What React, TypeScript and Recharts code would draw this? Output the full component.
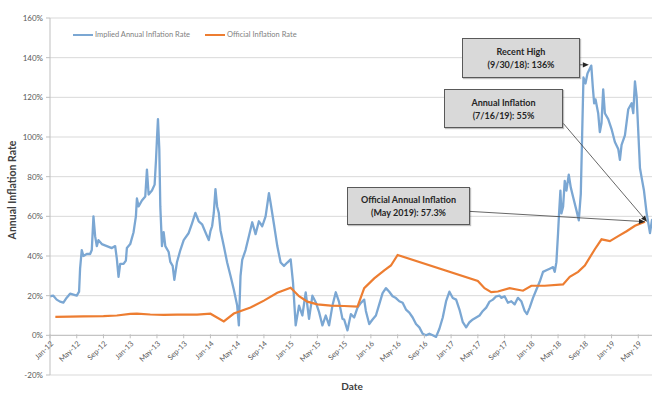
import React from "react";
import {
  LineChart,
  Line,
  XAxis,
  YAxis,
  CartesianGrid,
  ReferenceLine,
  Legend,
} from "recharts";

// months since Jan-2012 -> implied annual inflation (%)
const impliedRate: [number, number][] = [
  [0, 19.7], [0.5, 20], [1, 18], [1.5, 17], [2, 16.5], [2.5, 19], [3, 21], [3.5, 20.5],
  [4, 20], [4.35, 22], [4.5, 33.6], [4.75, 43], [5, 40], [5.5, 41], [6, 41], [6.25, 43],
  [6.5, 60], [6.75, 50], [7, 45], [7.25, 48], [7.75, 46], [8.5, 45], [9.25, 44], [9.75, 45],
  [10, 38.5], [10.25, 29.5], [10.5, 36], [11, 36], [11.35, 37.7], [11.5, 44], [12, 46],
  [12.5, 52], [12.85, 60], [13, 69], [13.25, 65], [13.75, 68], [14.25, 70], [14.5, 83.6],
  [14.75, 71], [15.25, 73], [15.65, 76], [15.85, 88], [16, 99], [16.15, 109], [16.35, 94],
  [16.5, 65], [16.75, 45], [17, 52], [17.25, 45], [17.75, 42], [18, 37], [18.35, 35],
  [18.6, 28], [19, 37], [19.5, 43], [20, 48], [20.75, 51.6], [21.25, 56.5], [21.75, 61.7],
  [22.25, 57.5], [22.75, 56], [23.25, 52], [23.75, 48], [24, 52.5], [24.25, 55], [24.5, 61.7],
  [24.75, 73.7], [25, 65], [25.25, 61.7], [25.5, 53], [26, 45], [26.5, 36.7], [27, 30],
  [27.5, 23], [28, 15], [28.25, 5], [28.5, 30], [28.75, 38], [29.25, 43], [29.75, 50],
  [30.25, 57], [30.75, 51], [31.25, 57.5], [31.75, 55], [32.25, 60], [32.75, 71.7], [33, 66.7],
  [33.5, 56], [34, 45], [34.5, 36.7], [35, 35], [35.5, 36.7], [36, 38.3], [36.35, 26.7],
  [36.75, 5], [37.25, 15], [37.75, 10], [38.25, 21.7], [38.75, 8.3], [39.25, 20], [39.75, 16.7],
  [40.25, 11.7], [40.75, 5], [41.25, 10], [41.75, 5], [42.25, 15], [42.75, 21.7], [43.25, 16.7],
  [43.75, 8.3], [44, 8], [44.5, 2.5], [45, 10.7], [45.5, 9], [46, 14], [46.5, 16.4], [47, 18],
  [47.25, 12.3], [47.75, 5.7], [48.25, 8], [48.75, 10], [49.25, 15.6], [49.75, 21.3],
  [50.25, 23.8], [50.75, 22], [51.25, 19.7], [51.75, 18.8], [52.25, 17.2], [52.75, 16.4],
  [53.25, 13], [53.75, 11.5], [54.25, 9], [54.75, 5.7], [55.25, 4], [55.75, 0.8], [56.25, 0],
  [56.75, 0.8], [57.25, 0], [57.75, -0.8], [58.25, 3.3], [58.75, 9], [59.25, 17.2], [59.75, 22],
  [60.25, 18.8], [60.75, 18], [61.25, 13], [61.75, 6.6], [62.25, 4], [62.75, 6.6], [63.25, 8],
  [63.75, 9], [64.25, 10], [64.75, 12.3], [65.25, 14], [65.75, 17], [66.25, 18], [66.75, 19.7],
  [67.25, 20], [67.5, 18.9], [68, 19.7], [68.5, 16.4], [69, 17.2], [69.5, 15.6], [70, 18.9],
  [70.5, 17.2], [71, 12.3], [71.35, 10.7], [71.75, 14], [72.25, 18.9], [72.75, 23], [73.25, 27],
  [73.75, 32], [74.25, 32.8], [74.75, 33.6], [75.25, 34.4], [75.5, 32], [75.75, 36.9], [76, 51.6],
  [76.15, 61.5], [76.35, 73], [76.5, 61.5], [76.75, 64.8], [77, 77.9], [77.25, 73], [77.6, 81],
  [77.9, 74.6], [78.25, 69.7], [78.75, 63], [79.1, 58], [79.4, 71.3], [79.6, 100.8], [79.8, 130],
  [80.1, 127], [80.4, 132], [80.97, 136], [81.2, 125], [81.4, 117], [81.6, 119], [82, 112],
  [82.25, 102.5], [82.5, 107], [82.75, 124], [83, 112], [83.5, 109], [84, 104], [84.5, 97.5],
  [85, 94], [85.25, 88.5], [85.5, 96], [86, 100.8], [86.5, 114], [87, 117], [87.25, 112],
  [87.5, 128], [87.75, 120.5], [88, 102.5], [88.25, 84.4], [88.5, 79.5], [88.85, 73],
  [89.25, 61.5], [89.5, 56.6], [89.75, 51.6], [90.05, 58.2], [90.5, 55],
];

// months since Jan-2012 -> official annual inflation (%)
const officialRate: [number, number][] = [
  [0.8, 9.3], [3, 9.4], [5, 9.6], [8, 9.7], [10, 10], [12, 10.8], [13, 10.9], [15, 10.5],
  [17, 10.3], [19, 10.4], [22, 10.4], [24, 10.9], [26, 7], [27.5, 11], [30, 14], [32, 17.5],
  [34, 21.5], [36, 24], [37.25, 19.7], [38.5, 17], [40, 15.6], [42, 15], [44, 14.8], [46, 14.5],
  [47, 23.8], [48.5, 28.7], [50, 32.8], [51, 35.2], [52, 40.5], [64, 27.4], [65, 23.8], [66, 21.8],
  [67, 22.1], [68.75, 23.8], [70.75, 22.5], [72, 25], [74, 25], [76.75, 25.7], [77.75, 29.5],
  [79, 32], [80, 35.2], [81.5, 43.4], [82.5, 48.4], [83.75, 47.5], [85, 50], [86.25, 52.5],
  [87.5, 55.2], [89, 57.3],
];

const monthTicks = [0, 4, 8, 12, 16, 20, 24, 28, 32, 36, 40, 44, 48, 52, 56, 60, 64, 68, 72, 76, 80, 84, 88];
const tickLabels = [
  "Jan-12", "May-12", "Sep-12", "Jan-13", "May-13", "Sep-13", "Jan-14", "May-14",
  "Sep-14", "Jan-15", "May-15", "Sep-15", "Jan-16", "May-16", "Sep-16", "Jan-17",
  "May-17", "Sep-17", "Jan-18", "May-18", "Sep-18", "Jan-19", "May-19",
];
const yTicks = [-20, 0, 20, 40, 60, 80, 100, 120, 140, 160];

const seriesNames = ["Implied Annual Inflation Rate", "Official Inflation Rate"];
const colors = ["#7ba7d3", "#ed7d31"];

// callouts: text lines, arrow start (month, %) and arrow tip (month, %)
const callouts = [
  { lines: ["Recent High", "(9/30/18): 136%"], from: [79.3, 136.4], to: [80.6, 136.4] },
  { lines: ["Annual Inflation", "(7/16/19): 55%"], from: [76.8, 106.8], to: [89.3, 57.3] },
  { lines: ["Official Annual Inflation", "(May 2019): 57.3%"], from: [62.8, 62.5], to: [89.0, 57.3] },
];

const impliedData = impliedRate.map(([m, v]) => ({ m, v }));
const officialData = officialRate.map(([m, v]) => ({ m, v }));

const FONT = "Lato, 'Open Sans', sans-serif";

const DateTick = (props: any) => {
  const { x, y, payload } = props;
  const idx = monthTicks.indexOf(payload.value);
  const zeroY = y - 40.7;
  const tx = x + 2;
  const ty = zeroY + 8;
  return (
    <g>
      <line x1={x} x2={x} y1={zeroY} y2={zeroY + 4} stroke="#bfbfbf" />
      <text
        x={tx}
        y={ty}
        textAnchor="end"
        dominantBaseline="central"
        transform={`rotate(-45 ${tx} ${ty})`}
        fontSize={7.5}
        fill="#595959"
        fontFamily={FONT}
      >
        {tickLabels[idx]}
      </text>
    </g>
  );
};

const Arrow = (props: any) => {
  const { x1, y1, x2, y2 } = props;
  const a = Math.atan2(y2 - y1, x2 - x1);
  const L = 6;
  const W = 2.6;
  const bx = x2 - L * Math.cos(a);
  const by = y2 - L * Math.sin(a);
  const px = -Math.sin(a) * W;
  const py = Math.cos(a) * W;
  return (
    <g>
      <line x1={x1} y1={y1} x2={bx} y2={by} stroke="#404040" strokeWidth={0.8} />
      <polygon
        points={`${x2},${y2} ${bx + px},${by + py} ${bx - px},${by - py}`}
        fill="#262626"
      />
    </g>
  );
};

const LegendContent = () => (
  <div style={{ display: "flex", alignItems: "center", fontSize: 7.5, color: "#7f7f7f", fontFamily: FONT }}>
    {seriesNames.map((n, i) => (
      <div key={n} style={{ display: "flex", alignItems: "center", marginRight: 15 }}>
        <span style={{ display: "inline-block", width: 20, height: 2, background: colors[i], marginRight: 2 }} />
        <span>{n}</span>
      </div>
    ))}
  </div>
);

const boxPos = [
  { left: 462, top: 38, width: 118, height: 40 },
  { left: 444, top: 89, width: 119, height: 39 },
  { left: 347, top: 187, width: 123, height: 38 },
];

export default function App() {
  return (
    <div
      style={{
        position: "absolute",
        left: 0,
        top: 0,
        width: 652,
        height: 393,
        overflow: "hidden",
        background: "#fff",
        fontFamily: FONT,
      }}
    >
      <LineChart width={660} height={393} margin={{ top: 9, right: 5, left: 0, bottom: 0 }}>
        <CartesianGrid vertical={false} stroke="#d9d9d9" />
        <XAxis
          dataKey="m"
          type="number"
          domain={[0, 90.5]}
          ticks={monthTicks}
          interval={0}
          height={18}
          axisLine={false}
          tickLine={false}
          tickSize={0}
          tickMargin={0}
          tick={<DateTick />}
          allowDataOverflow
        />
        <YAxis
          type="number"
          domain={[-20, 160]}
          ticks={yTicks}
          interval={0}
          width={50}
          axisLine={{ stroke: "#bfbfbf" }}
          tickLine={{ stroke: "#bfbfbf" }}
          tickSize={4}
          tickMargin={3}
          tick={{ fontSize: 8, fill: "#595959", fontFamily: FONT }}
          tickFormatter={(v) => `${v}%`}
        />
        <ReferenceLine y={0} stroke="#bfbfbf" />
        <Legend
          verticalAlign="top"
          content={<LegendContent />}
          wrapperStyle={{ position: "absolute", top: 30, left: 73, width: 300 }}
        />
        <Line
          data={impliedData}
          dataKey="v"
          name={seriesNames[0]}
          type="linear"
          stroke={colors[0]}
          strokeWidth={2.3}
          strokeLinejoin="round"
          dot={false}
          isAnimationActive={false}
        />
        <Line
          data={officialData}
          dataKey="v"
          name={seriesNames[1]}
          type="linear"
          stroke={colors[1]}
          strokeWidth={2.2}
          dot={false}
          isAnimationActive={false}
        />
        {callouts.map((c, i) => (
          <ReferenceLine
            key={i}
            segment={[
              { x: c.from[0], y: c.from[1] },
              { x: c.to[0], y: c.to[1] },
            ]}
            ifOverflow="visible"
            shape={Arrow}
          />
        ))}
      </LineChart>

      {callouts.map((c, i) => (
        <div
          key={i}
          style={{
            position: "absolute",
            ...boxPos[i],
            boxSizing: "border-box",
            background: "#d9d9d9",
            border: "1px solid #595959",
            boxShadow: "1px 1px 1px rgba(0,0,0,0.25)",
            display: "flex",
            flexDirection: "column",
            justifyContent: "center",
            alignItems: "center",
            fontSize: 9,
            fontWeight: "bold",
            color: "#262626",
            lineHeight: "13px",
          }}
        >
          {c.lines.map((l) => (
            <div key={l}>{l}</div>
          ))}
        </div>
      ))}

      <div
        style={{
          position: "absolute",
          left: 12,
          top: 190,
          transform: "translate(-50%, -50%) rotate(-90deg)",
          whiteSpace: "nowrap",
          fontSize: 10.5,
          fontWeight: "bold",
          color: "#404040",
        }}
      >
        Annual Inflation Rate
      </div>
      <div
        style={{
          position: "absolute",
          left: 352,
          top: 386,
          transform: "translate(-50%, -50%)",
          fontSize: 10,
          fontWeight: "bold",
          color: "#404040",
        }}
      >
        Date
      </div>
    </div>
  );
}
